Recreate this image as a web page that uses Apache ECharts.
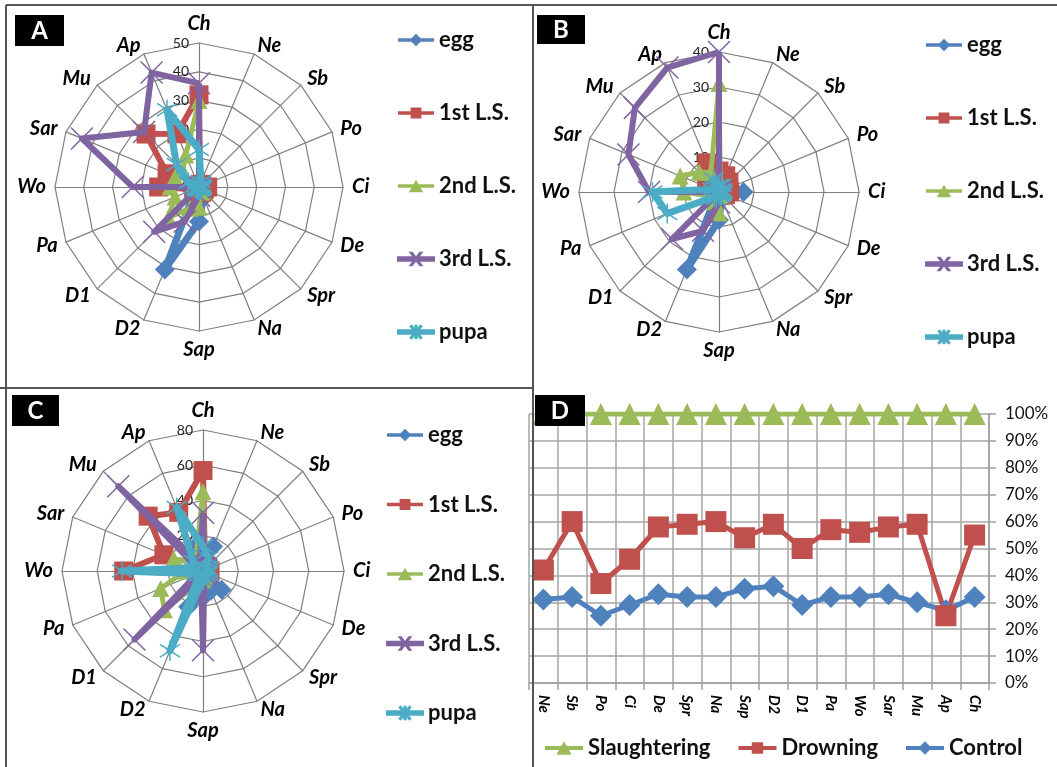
<!DOCTYPE html>
<html><head><meta charset="utf-8">
<script src="https://cdn.jsdelivr.net/npm/echarts@6/dist/echarts.min.js"></script>
<style>html,body{margin:0;padding:0;background:#fff}#c{width:1057px;height:767px}</style>
</head><body><div id="c"></div>
<script>
// Radar axes (listed counter-clockwise from the top, as ECharts lays them out)
const radarAxes = ['Ch','Ap','Mu','Sar','Wo','Pa','D1','D2','Sap','Na','Spr','De','Ci','Po','Sb','Ne'];
const stages = ['egg','1st L.S.','2nd L.S.','3rd L.S.','pupa'];

// Panel A (0-50)
const aEgg  = [1, 1, 1, 1, 1, 1, 2, 31, 12, 4, 3, 2, 3, 1, 1, 1];
const a1st  = [32, 20, 26, 12, 14, 2, 2, 2, 2, 2, 2, 2, 3, 1, 1, 1];
const a2nd  = [30, 12, 8, 9, 10, 9, 15, 8, 7, 2, 2, 1, 1, 1, 1, 1];
const a3rd  = [36, 43, 27, 44, 23, 0, 22, 13, 3, 0, 0, 0, 0, 0, 0, 0];
const aPupa = [13, 29, 11, 4, 2, 1, 1, 1, 1, 1, 1, 1, 1, 1, 1, 2];
// Panel B (0-40)
const bEgg  = [1, 1, 1, 1, 1, 1, 1, 24, 8, 2, 2, 2, 7, 1, 1, 1];
const b1st  = [6, 9, 5, 2, 2, 1, 1, 1, 1, 1, 1, 2, 3, 3, 4, 5];
const b2nd  = [31, 6, 8, 12, 10, 3, 2, 3, 6, 1, 1, 1, 1, 1, 1, 1];
const b3rd  = [40, 38.5, 34, 28, 20, 0, 19, 12, 3, 0, 0, 0, 0, 0, 0, 0];
const bPupa = [2, 4, 2, 2, 19, 16, 2, 2, 1, 1, 1, 1, 1, 1, 1, 2];
// Panel C (0-80)
const cEgg  = [5, 14, 5, 3, 2, 3, 5, 22, 15, 12, 15, 3, 3, 2, 3, 15];
const c1st  = [57, 36, 44, 24, 45, 4, 3, 3, 3, 2, 2, 2, 4, 2, 2, 3];
const c2nd  = [45, 10, 8, 18, 10, 26, 31, 8, 5, 3, 3, 2, 2, 2, 2, 3];
const c3rd  = [33, 5, 68, 3, 3, 3, 55, 3, 45, 2, 2, 2, 2, 2, 2, 2];
const cPupa = [14, 39, 8, 5, 46, 4, 3, 49, 5, 3, 3, 3, 3, 3, 3, 8];

const radarMax = [50, 40, 80];
const radarSplits = [5, 4, 4];

// Panel D
const lineCats = ['Ne','Sb','Po','Ci','De','Spr','Na','Sap','D2','D1','Pa','Wo','Sar','Mu','Ap','Ch'];
const slaughtering = [100,100,100,100,100,100,100,100,100,100,100,100,100,100,100,100];
const drowning = [42, 60, 37, 46, 58, 59, 60, 54, 59, 50, 57, 56, 58, 59, 25, 55];
const control  = [31, 32, 25, 29, 33, 32, 32, 35, 36, 29, 32, 32, 33, 30, 27, 32];
const lineNames = ['Slaughtering','Drowning','Control'];

const COL = ['#4F81BD','#C0504D','#9BBB59','#8064A2','#4BACC6'];
const SYM = ['diamond','rect','triangle','path://M0,0L10,10M10,0L0,10','path://M5,0L5,10M0.7,1.8L9.3,8.2M9.3,1.8L0.7,8.2'];
const SYMSIZE = [20, 19, 17, 22, 20];
const LW = [7, 6, 5, 6, 7];
const BAR = 'M0,5L40,5L40,9L0,9Z ';
const ICON = [
  'path://' + BAR + 'M20,0L27,7L20,14L13,7Z',
  'path://' + BAR + 'M14,1L26,1L26,13L14,13Z',
  'path://' + BAR + 'M20,0L28,14L12,14Z',
  'path://' + BAR + 'M14,0L15.6,0L26,14L24.4,14Z M24.4,0L26,0L15.6,14L14,14Z',
  'path://' + BAR + 'M19.3,0L20.7,0L20.7,14L19.3,14Z M14,0.8L15,0L26,13.2L25,14Z M25,0L26,0.8L15,14L14,13.2Z'
];

const FONT = 'Lato';
function radarCfg(center, radius, k) {
  return {
    center: center, radius: radius, startAngle: 90, splitNumber: radarSplits[k], shape: 'polygon',
    indicator: radarAxes.map((n, i) => ({ name: n, min: 0, max: radarMax[k], axisLabel: { show: i === 0 } })),
    axisName: { color: '#000', fontFamily: FONT, fontWeight: 'bold', fontStyle: 'italic', fontSize: 20 },
    nameGap: 9,
    axisLine: { lineStyle: { color: '#7f7f7f', width: 1.2 } },
    splitLine: { lineStyle: { color: '#7f7f7f', width: 1.2 } },
    splitArea: { show: false },
    axisTick: { show: false },
    axisLabel: { show: false, color: '#222', fontSize: 14, fontFamily: FONT, margin: 10 }
  };
}

const panelData = [
  [aEgg, a1st, a2nd, a3rd, aPupa],
  [bEgg, b1st, b2nd, b3rd, bPupa],
  [cEgg, c1st, c2nd, c3rd, cPupa]
];
const series = [];
panelData.forEach((arrs, p) => {
  arrs.forEach((vals, s) => {
    series.push({
      type: 'radar', radarIndex: p, name: stages[s],
      symbol: SYM[s], symbolSize: SYMSIZE[s],
      lineStyle: { color: COL[s], width: LW[s] },
      itemStyle: { color: COL[s], borderColor: COL[s], borderWidth: s >= 3 ? 1.5 : 0 },
      data: [{ name: stages[s], value: vals }],
      z: 2 + s
    });
  });
});
const lineData = [slaughtering, drowning, control];
const lineSym = ['triangle', 'rect', 'diamond'];
const lineSymSize = [22, 21, 22];
const lineCol = [COL[2], COL[1], COL[0]];
[2, 1, 0].forEach(i => {
  series.push({
    type: 'line', name: lineNames[i], data: lineData[i],
    symbol: lineSym[i], symbolSize: lineSymSize[i], showAllSymbol: true,
    lineStyle: { color: lineCol[i], width: 5 },
    itemStyle: { color: lineCol[i], borderWidth: 0 },
    z: 3
  });
});

function radarLegend(left, top, gap) {
  return {
    orient: 'vertical', left: left, top: top, itemGap: gap, itemWidth: 36, itemHeight: 14,
    data: stages.map((n, i) => ({ name: n, icon: ICON[i] })),
    textStyle: { color: '#111', fontFamily: FONT, fontWeight: 'bold', fontSize: 22 },
    selectedMode: false
  };
}
const lineIcons = [ICON[2], ICON[1], ICON[0]];

const lineStyleBorder = { stroke: '#555', lineWidth: 2 };
const boxText = { fill: '#fff', font: 'bold 24px Lato', align: 'center', verticalAlign: 'middle' };
const option = {
  animation: false,
  backgroundColor: '#fff',
  radar: [
    radarCfg([199, 187], 144, 0),
    radarCfg([719, 192], 140, 1),
    radarCfg([203, 571], 141, 2)
  ],
  grid: { left: 529, right: 68, top: 414, bottom: 84 },
  xAxis: {
    type: 'category', data: lineCats, boundaryGap: true,
    axisLine: { lineStyle: { color: '#a0a0a0', width: 1.5 } },
    axisTick: { show: true, length: 7, lineStyle: { color: '#a0a0a0', width: 1.5 } },
    splitLine: { show: true, lineStyle: { color: '#a6a6a6', width: 1.5 } },
    axisLabel: { rotate: -90, color: '#000', fontFamily: FONT, fontWeight: 'bold', fontStyle: 'italic', fontSize: 15, margin: 12 }
  },
  yAxis: {
    type: 'value', position: 'right', min: 0, max: 100, interval: 10,
    axisLine: { show: true, lineStyle: { color: '#a0a0a0', width: 1.5 } },
    axisTick: { show: true, length: 7, lineStyle: { color: '#a0a0a0', width: 1.5 } },
    splitLine: { show: true, lineStyle: { color: '#a6a6a6', width: 1.5 } },
    axisLabel: { formatter: '{value}%', color: '#111', fontFamily: FONT, fontSize: 17, margin: 16 }
  },
  legend: [
    radarLegend(392, 24, 51),
    radarLegend(920, 29, 51),
    radarLegend(381, 419, 47.5),
    {
      orient: 'horizontal', left: 540, top: 732, itemGap: 28, itemWidth: 38, itemHeight: 16,
      data: lineNames.map((n, i) => ({ name: n, icon: lineIcons[i] })),
      textStyle: { color: '#111', fontFamily: FONT, fontWeight: 'bold', fontSize: 22 },
      selectedMode: false
    }
  ],
  series: series,
  graphic: [
    { type: 'line', shape: { x1: 6, y1: 5, x2: 1057, y2: 5 }, style: lineStyleBorder, z: 100 },
    { type: 'line', shape: { x1: 6, y1: 5, x2: 6, y2: 767 }, style: lineStyleBorder, z: 100 },
    { type: 'line', shape: { x1: 533, y1: 5, x2: 533, y2: 767 }, style: lineStyleBorder, z: 100 },
    { type: 'line', shape: { x1: 0, y1: 388, x2: 533, y2: 388 }, style: lineStyleBorder, z: 100 },
    { type: 'rect', shape: { x: 15, y: 15, width: 49, height: 31 }, style: { fill: '#000' }, z: 100 },
    { type: 'text', x: 39.5, y: 31, style: Object.assign({ text: 'A' }, boxText), z: 101 },
    { type: 'rect', shape: { x: 537, y: 15, width: 48, height: 29 }, style: { fill: '#000' }, z: 100 },
    { type: 'text', x: 561, y: 30, style: Object.assign({ text: 'B' }, boxText), z: 101 },
    { type: 'rect', shape: { x: 12, y: 395, width: 47, height: 31 }, style: { fill: '#000' }, z: 100 },
    { type: 'text', x: 35.5, y: 411, style: Object.assign({ text: 'C' }, boxText), z: 101 },
    { type: 'rect', shape: { x: 535, y: 395, width: 50, height: 31 }, style: { fill: '#000' }, z: 100 },
    { type: 'text', x: 560, y: 411, style: Object.assign({ text: 'D' }, boxText), z: 101 }
  ]
};
const chart = echarts.init(document.getElementById('c'), null, { renderer: 'canvas' });
chart.setOption(option);
</script>
</body></html>
